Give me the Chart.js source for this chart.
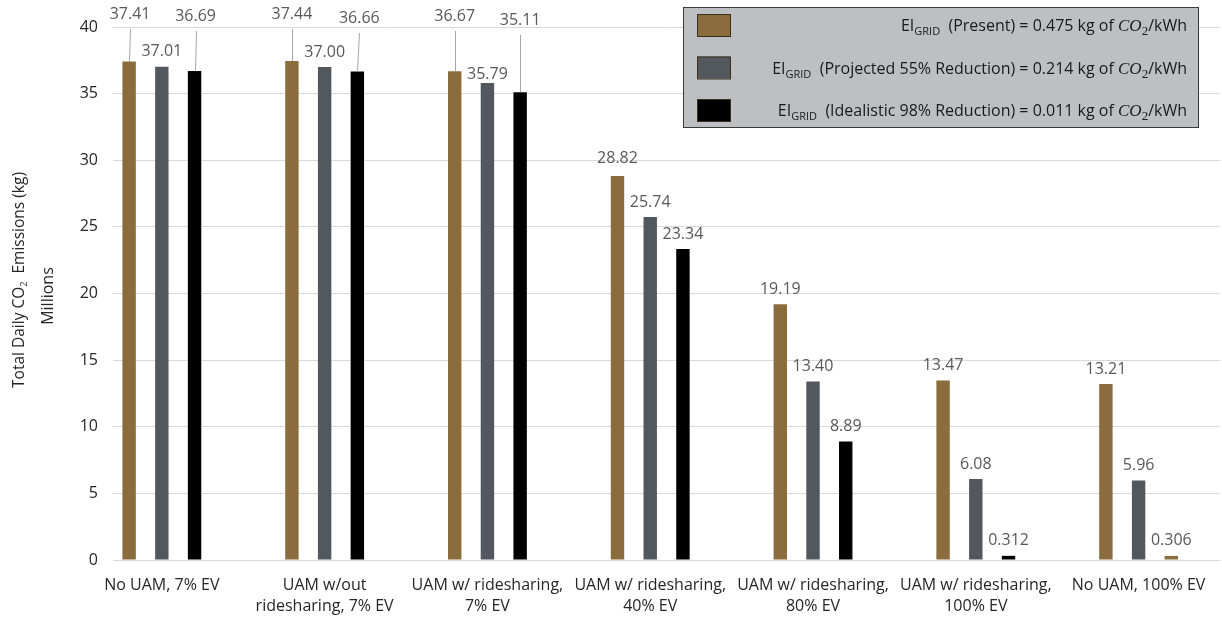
<!DOCTYPE html>
<html>
<head>
<meta charset="utf-8">
<script src="https://cdn.jsdelivr.net/npm/chart.js@4.4.1/dist/chart.umd.min.js"></script>
<style>
  html, body { margin: 0; padding: 0; background: #fff; }
  #wrap { width: 1222px; height: 622px; }
</style>
</head>
<body>
<div id="wrap"><canvas id="emissionsChart" width="1222" height="622"></canvas></div>
<script>
// Data (millions of kg CO2 per day)
const categories = [
    ['No UAM, 7% EV'],
    ['UAM w/out', 'ridesharing, 7% EV'],
    ['UAM w/ ridesharing,', '7% EV'],
    ['UAM w/ ridesharing,', '40% EV'],
    ['UAM w/ ridesharing,', '80% EV'],
    ['UAM w/ ridesharing,', '100% EV'],
    ['No UAM, 100% EV']
];
const presentGrid = [37.41, 37.44, 36.67, 28.82, 19.19, 13.47, 13.21];
const projectedGrid = [37.01, 37.00, 35.79, 25.74, 13.40, 6.08, 5.96];
const idealGrid = [36.69, 36.66, 35.11, 23.34, 8.89, 0.312, 0.306];
const scenarioNames = ['Present', 'Projected 55% Reduction', 'Idealistic 98% Reduction'];
const gridIntensity = ['0.475', '0.214', '0.011'];
const yTicks = [0, 5, 10, 15, 20, 25, 30, 35, 40];

const FONT = "'Open Sans', sans-serif";
const BROWN = '#8B6D3D';
const GRAY = '#53575E';
const BLACK = '#000000';

// labels that Excel moved up with leader lines: dataset-index -> {dx, top (px above plot top)}
const raisedLabels = {
    '0-0': { dx: 1, top: -13 },
    '2-0': { dx: 1, top: -11 },
    '0-1': { dx: 0, top: -13 },
    '2-1': { dx: 2, top: -9 },
    '0-2': { dx: 0, top: -11 },
    '2-2': { dx: 0, top: -7 }
};
const labelShift = { '1-2': 6, '0-3': -3 };

const toPoints = arr => arr.map((v, i) => ({ x: i, y: v }));
const fmt = v => v < 1 ? v.toFixed(3) : v.toFixed(2);

// draw text made of several pieces (subscripts, italics), aligned on right/left/center
function drawRich(ctx, parts, x, baseline, align) {
    let w = 0;
    parts.forEach(p => { ctx.font = p.font; w += ctx.measureText(p.text).width; });
    let cx = align === 'right' ? x - w : align === 'center' ? x - w / 2 : x;
    ctx.textAlign = 'left';
    ctx.textBaseline = 'alphabetic';
    parts.forEach(p => {
        ctx.font = p.font;
        ctx.fillText(p.text, cx, baseline + (p.shift || 0));
        cx += ctx.measureText(p.text).width;
    });
}

const dataLabelPlugin = {
    id: 'dataLabels',
    afterDatasetsDraw(chart) {
        const ctx = chart.ctx;
        const top = chart.chartArea.top;
        ctx.save();
        ctx.font = `16px ${FONT}`;
        ctx.textAlign = 'center';
        ctx.textBaseline = 'middle';
        chart.data.datasets.forEach((ds, d) => {
            chart.getDatasetMeta(d).data.forEach((bar, i) => {
                const key = d + '-' + i;
                const text = fmt(ds.data[i].y);
                let tx = bar.x, ty = bar.y - 15 + (labelShift[key] || 0);
                const r = raisedLabels[key];
                if (r) {
                    tx = bar.x + r.dx;
                    ty = top + r.top;
                    ctx.strokeStyle = '#A6A6A6';
                    ctx.lineWidth = 1;
                    ctx.beginPath();
                    ctx.moveTo(Math.round(tx) + 0.5, ty + 15);
                    ctx.lineTo(Math.round(bar.x) + 0.5, bar.y);
                    ctx.stroke();
                }
                ctx.fillStyle = '#595959';
                ctx.fillText(text, tx, ty);
            });
        });
        ctx.restore();
    }
};

const legendPlugin = {
    id: 'richLegend',
    afterDraw(chart) {
        const ctx = chart.ctx;
        ctx.save();
        ctx.fillStyle = '#BDBFC2';
        ctx.fillRect(683, 7, 515, 120);
        ctx.strokeStyle = '#3A3A3A';
        ctx.lineWidth = 1;
        ctx.strokeRect(683.5, 7.5, 515, 120);
        const rowY = [25, 67.5, 110];
        chart.data.datasets.forEach((ds, d) => {
            const y = rowY[d];
            ctx.fillStyle = ds.legendColor;
            ctx.fillRect(697, y - 11, 33, 22);
            ctx.strokeStyle = '#3B2F1E';
            ctx.strokeRect(697.5, y - 10.5, 33, 22);
            ctx.fillStyle = '#1A1A1A';
            drawRich(ctx, [
                { text: 'EI', font: `16px ${FONT}` },
                { text: 'GRID', font: `11px ${FONT}`, shift: 4 },
                { text: '  (' + scenarioNames[d] + ') = ' + gridIntensity[d] + ' kg of ', font: `16px ${FONT}` },
                { text: 'CO', font: "italic 17px 'Liberation Serif', serif" },
                { text: '2', font: "13px 'Liberation Serif', serif", shift: 4 },
                { text: '/kWh', font: `16px ${FONT}` }
            ], 1187, y + 6, 'right');
        });
        // y axis title
        ctx.fillStyle = '#262626';
        ctx.translate(19, 280);
        ctx.rotate(-Math.PI / 2);
        drawRich(ctx, [
            { text: 'Total Daily CO', font: `15.5px ${FONT}` },
            { text: '2', font: `9px ${FONT}`, shift: 3 },
            { text: '  Emissions (kg)', font: `15.5px ${FONT}` }
        ], 0, 5, 'center');
        ctx.rotate(Math.PI / 2);
        ctx.translate(-19, -280);
        ctx.font = `16px ${FONT}`;
        ctx.textAlign = 'center';
        ctx.textBaseline = 'middle';
        ctx.translate(48, 296);
        ctx.rotate(-Math.PI / 2);
        ctx.fillText('Millions', 0, 0);
        ctx.restore();
    }
};

Chart.defaults.font.family = FONT;

new Chart(document.getElementById('emissionsChart'), {
    type: 'bar',
    data: {
        datasets: [
            { label: scenarioNames[0], data: toPoints(presentGrid), backgroundColor: BROWN, legendColor: BROWN },
            { label: scenarioNames[1], data: toPoints(projectedGrid), backgroundColor: GRAY, legendColor: GRAY },
            { label: scenarioNames[2], data: toPoints(idealGrid),
              backgroundColor: idealGrid.map((v, i) => i === idealGrid.length - 1 ? BROWN : BLACK), legendColor: BLACK }
        ]
    },
    options: {
        responsive: false,
        devicePixelRatio: 1,
        animation: false,
        categoryPercentage: 0.603,
        barPercentage: 0.41,
        layout: { padding: { top: 27, right: 2, left: 0, bottom: 0 } },
        plugins: {
            legend: { display: false },
            tooltip: { enabled: false }
        },
        scales: {
            x: {
                type: 'linear',
                offset: false,
                min: -0.3,
                max: 6.5,
                afterBuildTicks: s => { s.ticks = categories.map((c, i) => ({ value: i })); },
                afterFit: s => { s.height = 62; },
                grid: { display: false },
                border: { display: false },
                ticks: {
                    callback: v => categories[v],
                    autoSkip: false,
                    maxRotation: 0,
                    padding: 7,
                    color: '#262626',
                    font: { size: 16, lineHeight: 1.3 }
                }
            },
            y: {
                min: 0,
                max: 40,
                afterBuildTicks: s => { s.ticks = yTicks.map(v => ({ value: v })); },
                afterFit: s => { s.width = 113; },
                grid: { color: '#D9D9D9', drawTicks: false },
                border: { display: false },
                ticks: { padding: 15, color: '#262626', font: { size: 16 } }
            }
        }
    },
    plugins: [dataLabelPlugin, legendPlugin]
});
</script>
</body>
</html>
